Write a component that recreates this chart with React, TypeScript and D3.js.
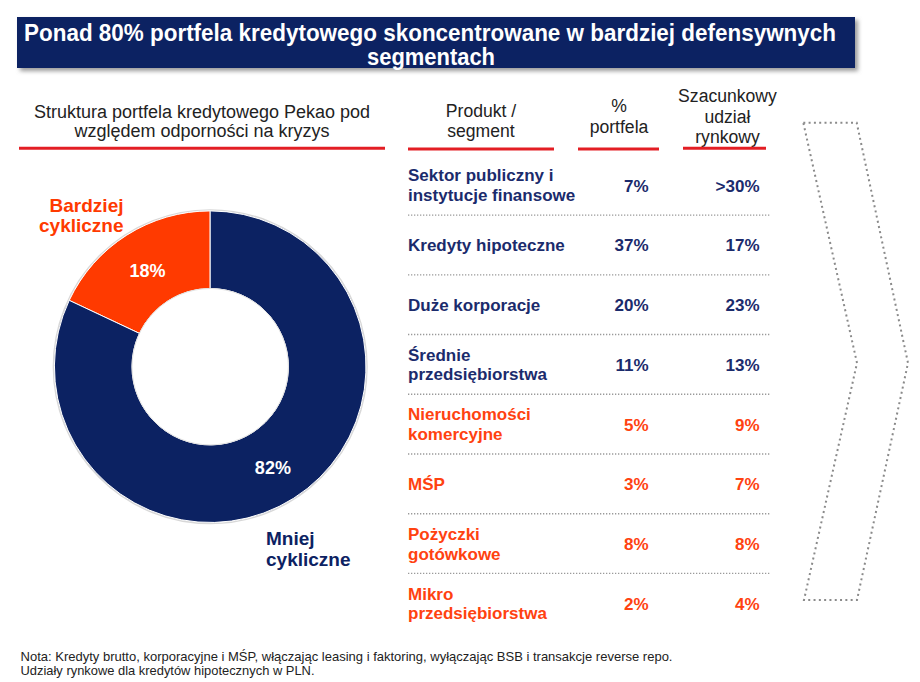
import React from "react";
import * as d3 from "d3";

const titleLines = [
  "Ponad 80% portfela kredytowego skoncentrowane w bardziej defensywnych",
  "segmentach",
];
const subtitleLines = ["Struktura portfela kredytowego Pekao pod", "względem odporności na kryzys"];
const donutCategories = [["Bardziej", "cykliczne"], ["Mniej", "cykliczne"]];
const donutValues = [18, 82];
const headerProduct = ["Produkt /", "segment"];
const headerShare = ["%", "portfela"];
const headerMarket = ["Szacunkowy", "udział", "rynkowy"];
const products = [
  ["Sektor publiczny i", "instytucje finansowe"],
  ["Kredyty hipoteczne"],
  ["Duże korporacje"],
  ["Średnie", "przedsiębiorstwa"],
  ["Nieruchomości", "komercyjne"],
  ["MŚP"],
  ["Pożyczki", "gotówkowe"],
  ["Mikro", "przedsiębiorstwa"],
];
const portfolioShare = [7, 37, 20, 11, 5, 3, 8, 2];
const marketShare = [">30%", "17%", "23%", "13%", "9%", "7%", "8%", "4%"];
const segmentGroup = ["less", "less", "less", "less", "more", "more", "more", "more"];
const footnotes = [
  "Nota: Kredyty brutto, korporacyjne i MŚP, włączając leasing i faktoring,  wyłączając BSB i transakcje reverse repo.",
  "Udziały rynkowe dla kredytów hipotecznych w PLN.",
];

const NAVY = "#0C2262";
const ORANGE = "#FF3A00";
const TEXT_NAVY = "#1B2B6C";
const TEXT_ORANGE = "#FF4210";
const RED = "#E31E24";
const FONT = "'Liberation Sans', Arial, Helvetica, sans-serif";

export default function App() {
  const cx = 210.2;
  const cy = 366.7;
  const rOuter = 155.8;
  const rInner = 78.2;
  const total = d3.sum(donutValues);
  const start = (-2 * Math.PI * donutValues[0]) / total;
  const pie = d3
    .pie<number>()
    .sort(null)
    .startAngle(start)
    .endAngle(start + 2 * Math.PI);
  const arcs = pie(donutValues);
  const arc = d3.arc<d3.PieArcDatum<number>>().innerRadius(rInner).outerRadius(rOuter);
  const donutColors = [ORANGE, NAVY];

  const rows = d3.scaleBand<number>().domain(d3.range(products.length)).range([155.3, 633.2]);
  const bw = rows.bandwidth();

  const colGroup = (g: string) => (g === "less" ? TEXT_NAVY : TEXT_ORANGE);

  return (
    <div style={{ position: "absolute", left: 0, top: 0 }}>
      <svg width={920} height={682} style={{ display: "block", background: "#fff" }} fontFamily={FONT}>
        <defs>
          <filter id="shadow" x="-5%" y="-20%" width="110%" height="160%">
            <feGaussianBlur stdDeviation="2" />
          </filter>
        </defs>
        {/* Title bar */}
        <rect x={20} y={20} width={838} height={51} fill="#9a9a9a" filter="url(#shadow)" />
        <rect x={17} y={17} width={838} height={51} fill={NAVY} />
        <text x={430} y={41} textAnchor="middle" fill="#fff" fontWeight="bold" fontSize={23} textLength={812} lengthAdjust="spacingAndGlyphs">
          {titleLines[0]}
        </text>
        <text x={431} y={65} textAnchor="middle" fill="#fff" fontWeight="bold" fontSize={23} textLength={128} lengthAdjust="spacingAndGlyphs">
          {titleLines[1]}
        </text>

        {/* Subtitle */}
        {subtitleLines.map((t, i) => (
          <text key={i} x={202} y={118 + i * 19} textAnchor="middle" fill="#222" fontSize={18}>
            {t}
          </text>
        ))}
        <line x1={19} x2={385} y1={148.3} y2={148.3} stroke={RED} strokeWidth={3} />

        {/* Donut */}
        <g transform={`translate(${cx},${cy})`}>
          <circle r={rOuter + 1} fill="none" stroke="#d8d8d8" strokeWidth={1.5} />
          {arcs.map((a, i) => (
            <path key={i} d={arc(a) || ""} fill={donutColors[i]} stroke="#fff" strokeWidth={1} />
          ))}
          <circle r={rInner} fill="#fff" stroke="#e0e0e0" strokeWidth={1} />
          {arcs.map((a, i) => {
            const [x, y] = arc.centroid(a);
            return (
              <text key={i} x={x} y={y + 9} textAnchor="middle" fill="#fff" fontWeight="bold" fontSize={18}>
                {`${donutValues[i]}%`}
              </text>
            );
          })}
        </g>
        {donutCategories[0].map((t, i) => (
          <text key={i} x={123.5} y={211.7 + i * 20} textAnchor="end" fill={ORANGE} fontWeight="bold" fontSize={19}>
            {t}
          </text>
        ))}
        {donutCategories[1].map((t, i) => (
          <text key={i} x={266} y={544.5 + i * 21} textAnchor="start" fill={NAVY} fontWeight="bold" fontSize={19}>
            {t}
          </text>
        ))}

        {/* Table headers */}
        {headerProduct.map((t, i) => (
          <text key={i} x={481} y={117.3 + i * 19.5} textAnchor="middle" fill="#222" fontSize={17.6}>
            {t}
          </text>
        ))}
        {headerShare.map((t, i) => (
          <text key={i} x={619} y={111.7 + i * 21.6} textAnchor="middle" fill="#222" fontSize={17.6}>
            {t}
          </text>
        ))}
        {headerMarket.map((t, i) => (
          <text key={i} x={727.5} y={101.7 + i * 20.8} textAnchor="middle" fill="#222" fontSize={17.6}>
            {t}
          </text>
        ))}
        <line x1={408} x2={554} y1={149} y2={149} stroke={RED} strokeWidth={3} />
        <line x1={578} x2={659} y1={149} y2={149} stroke={RED} strokeWidth={3} />
        <line x1={683} x2={766} y1={148.3} y2={148.3} stroke={RED} strokeWidth={3} />

        {/* Table rows */}
        {products.map((lines, i) => {
          const y0 = (rows(i) as number) + bw / 2;
          const color = colGroup(segmentGroup[i]);
          const base = y0 + 6.5;
          return (
            <g key={i}>
              {lines.map((t, j) => (
                <text
                  key={j}
                  x={408}
                  y={lines.length === 1 ? base : base - 10.3 + j * 19.8}
                  fill={color}
                  fontWeight="bold"
                  fontSize={17}
                >
                  {t}
                </text>
              ))}
              <text x={648.5} y={base} textAnchor="end" fill={color} fontWeight="bold" fontSize={17}>
                {`${portfolioShare[i]}%`}
              </text>
              <text x={759.5} y={base} textAnchor="end" fill={color} fontWeight="bold" fontSize={17}>
                {marketShare[i]}
              </text>
              {i < products.length - 1 && (
                <line
                  x1={408}
                  x2={771}
                  y1={(rows(i) as number) + bw}
                  y2={(rows(i) as number) + bw}
                  stroke="#9a9a9a"
                  strokeWidth={1.3}
                  strokeDasharray="1.3 1.7"
                />
              )}
            </g>
          );
        })}

        {/* Chevron */}
        <polygon
          points="803.3,122.7 856.7,122.7 908,363 857,600 804,600 857,363"
          fill="none"
          stroke="#8a8a8a"
          strokeWidth={2}
          strokeDasharray="2 3.3"
        />

        {/* Footnotes */}
        <text x={20.5} y={660.5} fill="#222" fontSize={13.5} textLength={652} lengthAdjust="spacingAndGlyphs">
          {footnotes[0]}
        </text>
        <text x={20.5} y={675} fill="#222" fontSize={13.5} textLength={294} lengthAdjust="spacingAndGlyphs">
          {footnotes[1]}
        </text>
      </svg>
    </div>
  );
}
